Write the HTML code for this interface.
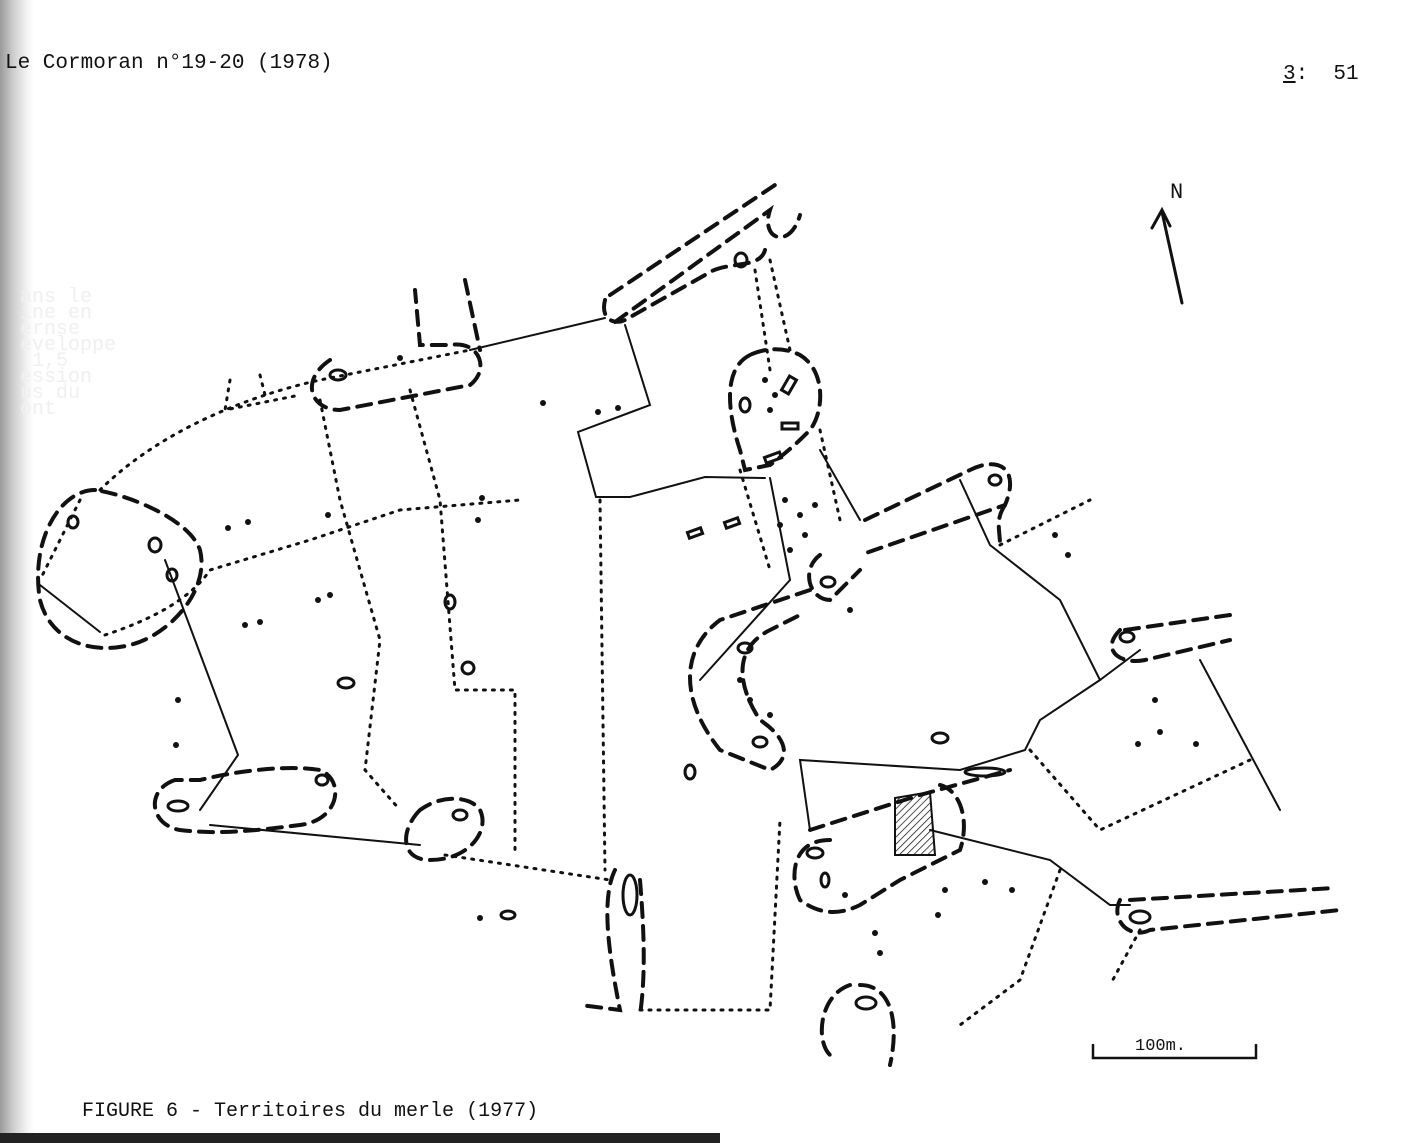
<!DOCTYPE html>
<html><head><meta charset="utf-8"><style>
html,body{margin:0;padding:0;background:#fff}
#w{position:relative;width:1427px;height:1143px;overflow:hidden;background:#fff;font-family:"Liberation Mono",monospace}
.strip{position:absolute;left:0;top:0;width:34px;height:1143px;background:linear-gradient(to right,#9a9a9a,#cfcfcf 40%,#f4f4f4 80%,#fff)}
.t{position:absolute;color:#111;font-size:21px;white-space:pre}
.faint{position:absolute;left:20px;color:#f0f0f0;font-size:20px;line-height:16px;white-space:pre}
</style></head><body><div id="w">
<div class="strip"></div>
<div class="faint" style="top:290px">ans le
ine en
ernse
eveloppe
 1,5
ession
us du
ont</div>
<div class="t" style="left:5px;top:52px">Le Cormoran n°19-20 (1978)</div>
<div class="t" style="left:1283px;top:63px"><u>3</u>:  51</div>
<div class="t" style="left:82px;top:1100px;font-size:20px">FIGURE 6 - Territoires du merle (1977)</div>
<div style="position:absolute;left:0;top:1133px;width:720px;height:10px;background:#222"></div>
<svg width="1427" height="1143" style="position:absolute;left:0;top:0" fill="none" stroke="#111" stroke-linecap="round">
<path d="M1182 303 L1162 212 M1152 228 L1162 210 L1170 226" stroke-width="3"/>
<text x="1170" y="198" font-family="Liberation Mono" font-size="22" fill="#111" stroke="none">N</text>
<path d="M1093 1045 V1058 H1256 V1045" stroke-width="2.5"/>
<text x="1135" y="1050" font-family="Liberation Mono" font-size="17" fill="#111" stroke="none">100m.</text>
<g stroke-width="4" stroke-dasharray="14 9">
<path d="M95 490 C60 490 30 540 40 600 C50 640 90 655 130 645 C170 635 210 590 200 550 C190 520 130 495 95 490Z"/>
<path d="M330 360 C300 380 310 410 340 410 L470 385 C490 370 480 340 450 345 L420 345 L415 290"/>
<path d="M465 280 L480 350"/>
<path d="M610 295 L775 185 M615 322 L770 210 C760 240 790 250 800 215 M605 300 C600 320 615 325 625 320 L705 275 C725 260 760 270 765 250"/>
<path d="M750 355 C720 370 730 420 740 450 L745 470 L770 465 C790 450 800 440 810 430 C825 410 825 370 800 355 C780 345 760 350 750 355Z"/>
<path d="M865 520 L970 470 C1000 455 1020 470 1005 505 L860 555 M820 555 C800 570 810 600 830 600 L860 570"/>
<path d="M810 590 L720 620 C680 650 680 700 720 750 L770 770 C790 760 790 740 760 720 C740 690 730 650 770 630 L800 615"/>
<path d="M1005 505 C995 520 1000 530 1000 545"/>
<path d="M1120 630 C1100 650 1120 665 1145 660 L1230 640 M1125 630 L1230 615"/>
<path d="M810 830 L920 795 L1010 770 M830 840 C790 840 790 880 800 900 C820 915 840 915 860 905 L900 880 L960 850 C970 820 960 790 940 785"/>
<path d="M1120 900 C1110 920 1130 940 1150 930 L1340 910 M1130 900 L1335 888"/>
<path d="M175 780 C145 790 150 825 180 830 C220 835 260 830 300 825 C340 820 345 780 320 770 C290 765 240 770 200 780Z"/>
<path d="M420 810 C400 830 400 860 430 860 C470 860 490 830 480 810 C470 795 440 795 420 810Z"/>
<path d="M615 870 C600 900 610 960 620 1010 L580 1005 M640 880 C645 940 645 980 640 1015"/>
<path d="M850 985 C820 995 815 1040 830 1055 M860 985 C890 985 900 1020 890 1065"/>
</g>
<g stroke-width="2">
<path d="M100 632 L40 585 M165 560 L238 755 L200 810"/>
<path d="M470 350 L605 318 M625 325 L650 405 L578 432 L596 497 L630 497 L705 477 L765 478"/>
<path d="M770 478 L790 580 M820 450 L860 520"/>
<path d="M960 480 L990 545 L1060 600 L1100 680 L1040 720 L1025 750 L960 770 L800 760 L810 830"/>
<path d="M1100 680 L1140 650 M1200 660 L1280 810"/>
<path d="M210 825 L420 845"/>
<path d="M930 830 L1050 860 L1110 905 L1130 905"/>
<path d="M790 580 L700 680"/>
</g>
<g stroke-width="3" stroke-dasharray="2 7">
<path d="M100 490 C150 440 230 400 320 380 L470 350 M230 380 L225 410 L300 395 M260 375 L265 395"/>
<path d="M105 635 C150 620 190 600 210 570 L310 540 L400 510 L460 505 L520 500"/>
<path d="M320 400 L340 500 L380 640 L365 770 L400 810 M410 390 L440 500 L455 690 L515 690 L515 855 M445 855 L610 880"/>
<path d="M600 500 L605 870 M640 1010 L770 1010 L780 820"/>
<path d="M755 270 L770 370 M770 260 L790 350 M820 430 L840 520 M740 470 L770 570"/>
<path d="M1000 545 L1090 500 M1030 750 L1100 830 L1250 760 M1060 870 L1020 980 L960 1025 M1140 930 L1110 985"/>
<path d="M80 500 L40 580"/>
</g>
<g stroke-width="3">
<ellipse cx="338" cy="375" rx="8" ry="5"/><ellipse cx="741" cy="260" rx="6" ry="7"/>
<ellipse cx="745" cy="405" rx="5" ry="7"/><ellipse cx="155" cy="545" rx="6" ry="7"/>
<ellipse cx="172" cy="575" rx="5" ry="6"/><ellipse cx="73" cy="522" rx="5" ry="6"/>
<ellipse cx="450" cy="602" rx="5" ry="7"/><ellipse cx="468" cy="668" rx="6" ry="6"/>
<ellipse cx="346" cy="683" rx="8" ry="5"/><ellipse cx="690" cy="772" rx="5" ry="7"/>
<ellipse cx="178" cy="806" rx="10" ry="5"/><ellipse cx="322" cy="780" rx="6" ry="5"/>
<ellipse cx="460" cy="815" rx="7" ry="5"/><ellipse cx="508" cy="915" rx="7" ry="4"/>
<ellipse cx="745" cy="648" rx="7" ry="5"/><ellipse cx="760" cy="742" rx="7" ry="5"/>
<ellipse cx="828" cy="582" rx="7" ry="5"/><ellipse cx="940" cy="738" rx="8" ry="5"/>
<ellipse cx="995" cy="480" rx="6" ry="5"/><ellipse cx="1127" cy="637" rx="7" ry="5"/>
<ellipse cx="815" cy="853" rx="8" ry="5"/><ellipse cx="825" cy="880" rx="4" ry="7"/>
<ellipse cx="1140" cy="917" rx="10" ry="6"/><ellipse cx="866" cy="1003" rx="10" ry="6"/>
<ellipse cx="630" cy="895" rx="7" ry="20"/><ellipse cx="985" cy="772" rx="20" ry="4"/>
<rect x="688" y="530" width="14" height="6" transform="rotate(-20 695 533)"/>
<rect x="725" y="520" width="14" height="6" transform="rotate(-20 732 523)"/>
<rect x="765" y="455" width="16" height="6" transform="rotate(-20 772 458)"/>
<rect x="785" y="377" width="8" height="16" transform="rotate(30 789 385)"/>
<rect x="782" y="423" width="16" height="6"/>
</g>
<defs><pattern id="h" width="5" height="5" patternUnits="userSpaceOnUse" patternTransform="rotate(45)"><line x1="0" y1="0" x2="0" y2="5" stroke="#111" stroke-width="1.5"/></pattern></defs>
<path d="M895 798 L930 792 L935 855 L895 855Z" stroke-width="2" fill="url(#h)"/>
<g fill="#111" stroke="none">
<circle cx="228" cy="528" r="3"/><circle cx="248" cy="522" r="3"/><circle cx="328" cy="515" r="3"/>
<circle cx="482" cy="498" r="3"/><circle cx="478" cy="520" r="3"/><circle cx="543" cy="403" r="3"/>
<circle cx="598" cy="412" r="3"/><circle cx="618" cy="408" r="3"/><circle cx="400" cy="358" r="3"/>
<circle cx="318" cy="600" r="3"/><circle cx="330" cy="595" r="3"/><circle cx="245" cy="625" r="3"/>
<circle cx="260" cy="622" r="3"/><circle cx="178" cy="700" r="3"/><circle cx="176" cy="745" r="3"/>
<circle cx="480" cy="918" r="3"/><circle cx="1055" cy="535" r="3"/><circle cx="1068" cy="555" r="3"/>
<circle cx="850" cy="610" r="3"/><circle cx="1155" cy="700" r="3"/><circle cx="1138" cy="744" r="3"/>
<circle cx="1160" cy="732" r="3"/><circle cx="1196" cy="744" r="3"/><circle cx="945" cy="890" r="3"/>
<circle cx="938" cy="915" r="3"/><circle cx="985" cy="882" r="3"/><circle cx="1012" cy="890" r="3"/>
<circle cx="875" cy="933" r="3"/><circle cx="880" cy="953" r="3"/><circle cx="845" cy="895" r="3"/>
<circle cx="785" cy="500" r="3"/><circle cx="800" cy="515" r="3"/><circle cx="780" cy="525" r="3"/>
<circle cx="805" cy="535" r="3"/><circle cx="815" cy="505" r="3"/><circle cx="790" cy="550" r="3"/>
<circle cx="765" cy="380" r="3"/><circle cx="775" cy="395" r="3"/><circle cx="770" cy="410" r="3"/>
<circle cx="740" cy="680" r="3"/><circle cx="750" cy="700" r="3"/><circle cx="770" cy="715" r="3"/>
</g>
</svg>
</div></body></html>
